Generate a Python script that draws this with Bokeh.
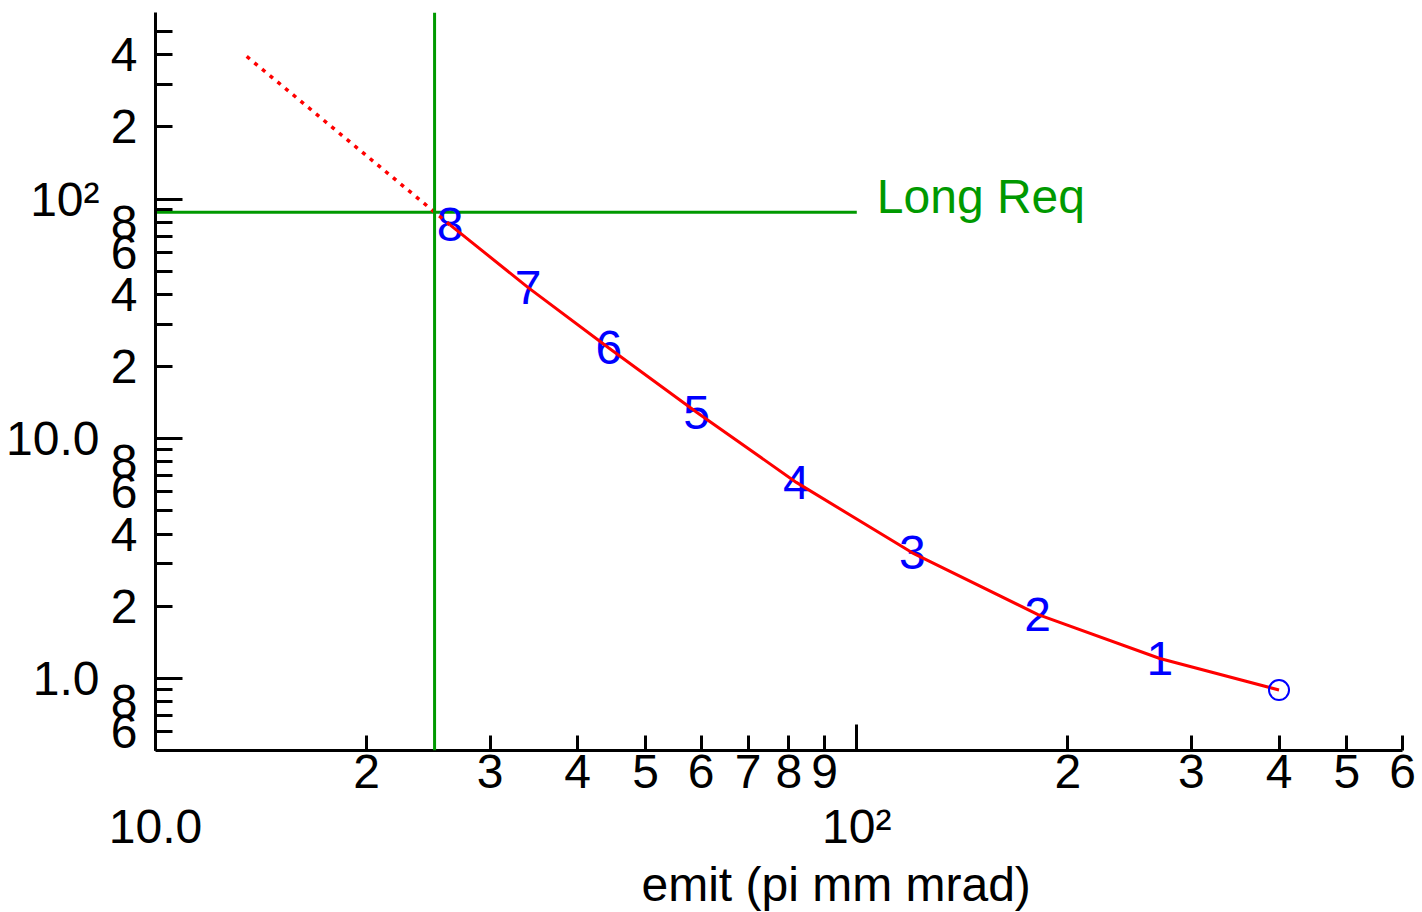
from bokeh.plotting import figure
from bokeh.models import FixedTicker, Label, Span, ColumnDataSource, LogAxis, Title
from bokeh.core.properties import value
from bokeh.embed import file_html
from bokeh.resources import INLINE

FONT = "Liberation Sans"
FS = "48px"

# ---- data ----
point_labels = ["1", "2", "3", "4", "5", "6", "7", "8"]
emit = [270.5, 181.0, 120.0, 82.0, 59.1, 44.3, 34.0, 26.3]
values = [1.21, 1.85, 3.34, 6.57, 12.9, 23.9, 42.7, 78.0]
end_emit = [400.0]
end_value = [0.894]
extrap_emit = [26.3, 13.4]
extrap_value = [78.0, 400.0]
req_emit = 25.0
req_long = 88.0
req_text = "Long Req"

x_ticks = [20, 30, 40, 50, 60, 70, 80, 90, 200, 300, 400, 500, 600]
x_tick_labels = ["2", "3", "4", "5", "6", "7", "8", "9", "2", "3", "4", "5", "6"]
x_decades = [10, 100]
x_decade_labels = ["10.0", "10\u00b2"]

y_ticks = [0.6, 0.7, 0.8, 0.9, 2, 3, 4, 5, 6, 7, 8, 9,
           20, 30, 40, 50, 60, 70, 80, 90, 200, 300, 400, 500]
y_tick_labels = ["6", "", "8", "", "2", "", "4", "", "6", "", "8", "",
                 "2", "", "4", "", "6", "", "8", "", "2", "", "4", ""]
y_decades = [1, 10, 100]
y_decade_labels = ["1.0", "10.0", "10\u00b2"]

x_title = "emit (pi mm mrad)"

XMIN, XMAX = 10, 600
YMIN, YMAX = 0.5, 600

p = figure(width=1418, height=912, x_axis_type="log", y_axis_type="log",
           x_range=(XMIN, XMAX), y_range=(YMIN, YMAX),
           output_backend="svg", toolbar_location=None,
           min_border_left=155, min_border_right=16,
           min_border_top=12, min_border_bottom=162)
p.outline_line_color = None
p.grid.visible = False
p.background_fill_color = "white"


def style_labels(ax):
    ax.major_label_text_font = FONT
    ax.major_label_text_font_size = FS
    ax.major_label_text_color = "black"


# x axis (minor labels)
xa = p.xaxis[0]
xa.ticker = FixedTicker(ticks=x_ticks + x_decades, minor_ticks=x_decades)
ov = {t: l for t, l in zip(x_ticks, x_tick_labels)}
ov.update({t: "" for t in x_decades})
xa.major_label_overrides = ov
xa.major_tick_in = 15
xa.major_tick_out = 0
xa.minor_tick_in = 26
xa.minor_tick_out = 0
xa.major_label_standoff = 4

# y axis (minor labels)
ya = p.yaxis[0]
ya.ticker = FixedTicker(ticks=y_ticks + y_decades, minor_ticks=y_decades)
ov = {t: l for t, l in zip(y_ticks, y_tick_labels)}
ov.update({t: "" for t in y_decades})
ya.major_label_overrides = ov
ya.major_tick_in = 17
ya.major_tick_out = 0
ya.minor_tick_in = 27
ya.minor_tick_out = 0
ya.major_label_standoff = 18

for ax in (xa, ya):
    ax.axis_line_width = 3
    ax.major_tick_line_width = 3
    ax.minor_tick_line_width = 3
    ax.axis_line_color = "black"
    ax.major_tick_line_color = "black"
    ax.minor_tick_line_color = "black"
    style_labels(ax)

# decade label axes (outer row / column)
xa2 = LogAxis(ticker=FixedTicker(ticks=x_decades, minor_ticks=[]),
              major_label_overrides={t: l for t, l in zip(x_decades, x_decade_labels)},
              axis_line_color=None, major_tick_line_color=None, minor_tick_line_color=None,
              major_tick_in=0, major_tick_out=0, minor_tick_in=0, minor_tick_out=0,
              major_label_standoff=9)
style_labels(xa2)
p.add_layout(xa2, "below")

ya2 = LogAxis(ticker=FixedTicker(ticks=y_decades, minor_ticks=[]),
              major_label_overrides={t: l for t, l in zip(y_decades, y_decade_labels)},
              axis_line_color=None, major_tick_line_color=None, minor_tick_line_color=None,
              major_tick_in=0, major_tick_out=0, minor_tick_in=0, minor_tick_out=0,
              major_label_standoff=8)
style_labels(ya2)
p.add_layout(ya2, "left")

# x title
p.add_layout(Title(text=x_title, align="left", offset=486, text_font=FONT,
                   text_font_size=FS, text_font_style="normal", text_color="black",
                   standoff=0), "below")

GREEN = "#009900"
# requirement lines
p.add_layout(Span(location=req_emit, dimension="height", line_color=GREEN, line_width=3))
p.line([XMIN, 100], [req_long, req_long], line_color=GREEN, line_width=3)
p.add_layout(Label(x=100, y=req_long, text=req_text, text_align="left", text_baseline="alphabetic",
                   x_offset=20, y_offset=16, text_font=FONT, text_font_size=FS, text_color=GREEN))

# points as numbers
src = ColumnDataSource(dict(x=emit, y=values, t=point_labels))
p.text(x="x", y="y", text="t", source=src, text_align="center", text_baseline="middle",
       text_font=value(FONT), text_font_size=FS, text_color="blue")

# red curve
p.line(end_emit + emit, end_value + values, line_color="red", line_width=3)
p.line(extrap_emit, extrap_value, line_color="red", line_width=3.5, line_dash="4 6")

# end point circle
p.scatter(end_emit, end_value, marker="circle", size=20, fill_color=None,
          line_color="blue", line_width=2)

open("out.html", "w").write(file_html(p, INLINE))
